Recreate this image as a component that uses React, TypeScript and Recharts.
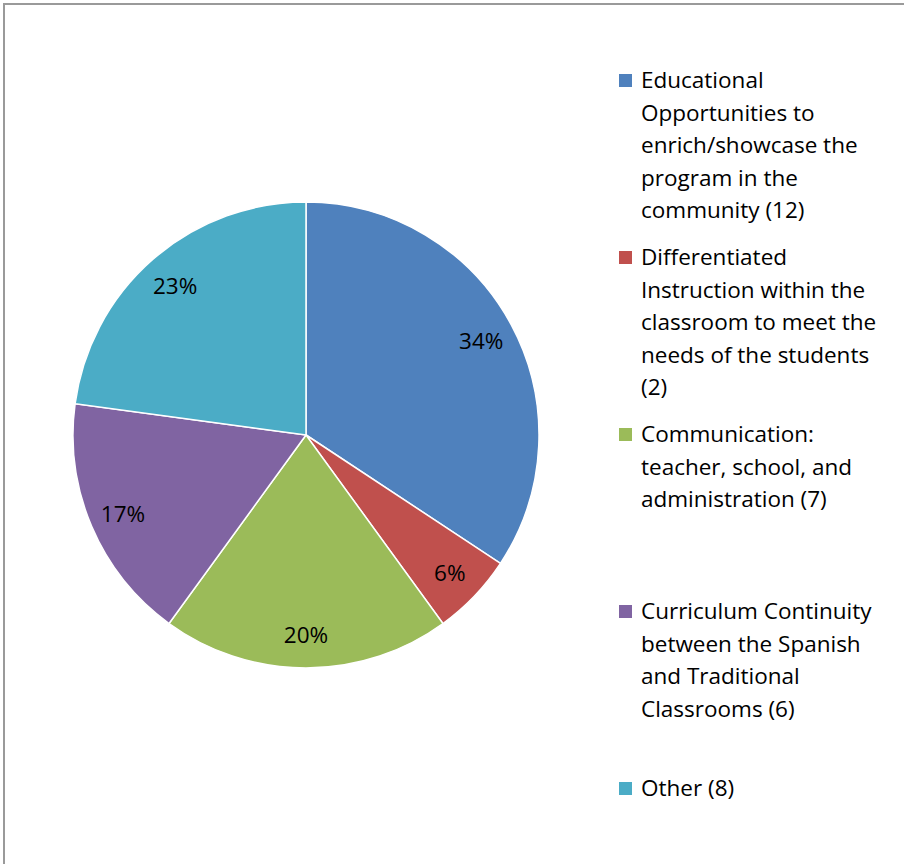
import { PieChart, Pie, Cell } from 'recharts';

const categories = [
  'Educational Opportunities to enrich/showcase the program in the community (12)',
  'Differentiated Instruction within the classroom to meet the needs of the students (2)',
  'Communication: teacher, school, and administration (7)',
  'Curriculum Continuity between the Spanish and Traditional Classrooms (6)',
  'Other (8)',
];
const counts = [12, 2, 7, 6, 8];
const colors = ['#4F81BD', '#C0504D', '#9BBB59', '#8064A2', '#4BACC6'];
// how the legend text wraps in the original
const legendLines = [
  ['Educational', 'Opportunities to', 'enrich/showcase the', 'program in the', 'community (12)'],
  ['Differentiated', 'Instruction within the', 'classroom to meet the', 'needs of the students', '(2)'],
  ['Communication:', 'teacher, school, and', 'administration (7)'],
  ['Curriculum Continuity', 'between the Spanish', 'and Traditional', 'Classrooms (6)'],
  ['Other (8)'],
];

const FONT = '"Open Sans", "Noto Sans", sans-serif';
const RAD = Math.PI / 180;

const data = categories.map((name, i) => ({ name, value: counts[i] }));

const renderLabel = (props: any) => {
  const { cx, cy, midAngle, percent } = props;
  const r = 199;
  const x = cx + r * Math.cos(-midAngle * RAD);
  const y = cy + r * Math.sin(-midAngle * RAD);
  return (
    <text x={x} y={y} fill="#000" fontSize={22.5} fontFamily={FONT} textAnchor="middle" dominantBaseline="central">
      {Math.round(percent * 100)}%
    </text>
  );
};

export default function App() {
  return (
    <div style={{ position: 'absolute', left: 0, top: 0, width: 904, height: 864, overflow: 'hidden', background: '#fff' }}>
      <div
        style={{
          position: 'absolute',
          left: 3,
          top: 3,
          width: 1000,
          height: 1000,
          border: '2px solid #9a9a9a',
        }}
      />
      <PieChart width={904} height={864} margin={{ top: 0, right: 0, bottom: 0, left: 0 }} style={{ position: 'absolute', left: 0, top: 0 }}>
        <Pie
          data={data}
          dataKey="value"
          nameKey="name"
          cx={306}
          cy={435}
          outerRadius={233}
          startAngle={90}
          endAngle={-270}
          stroke="#fff"
          strokeWidth={1.5}
          label={renderLabel}
          labelLine={false}
          isAnimationActive={false}
        >
          {data.map((d, i) => (
            <Cell key={d.name} fill={colors[i]} />
          ))}
        </Pie>
      </PieChart>
      <div style={{ position: 'absolute', left: 619, top: 64, width: 285, fontFamily: FONT, fontSize: 22.5, color: '#000' }}>
        {categories.map((name, i) => (
          <div key={name} style={{ position: 'absolute', left: 0, top: i * 177, display: 'flex' }}>
            <div style={{ width: 13, height: 13, background: colors[i], marginTop: 10, marginRight: 9, flexShrink: 0 }} />
            <div style={{ lineHeight: '32.5px' }}>
              {legendLines[i].map((l, j) => (
                <div key={j} style={{ whiteSpace: 'nowrap' }}>{l}</div>
              ))}
            </div>
          </div>
        ))}
      </div>
    </div>
  );
}
